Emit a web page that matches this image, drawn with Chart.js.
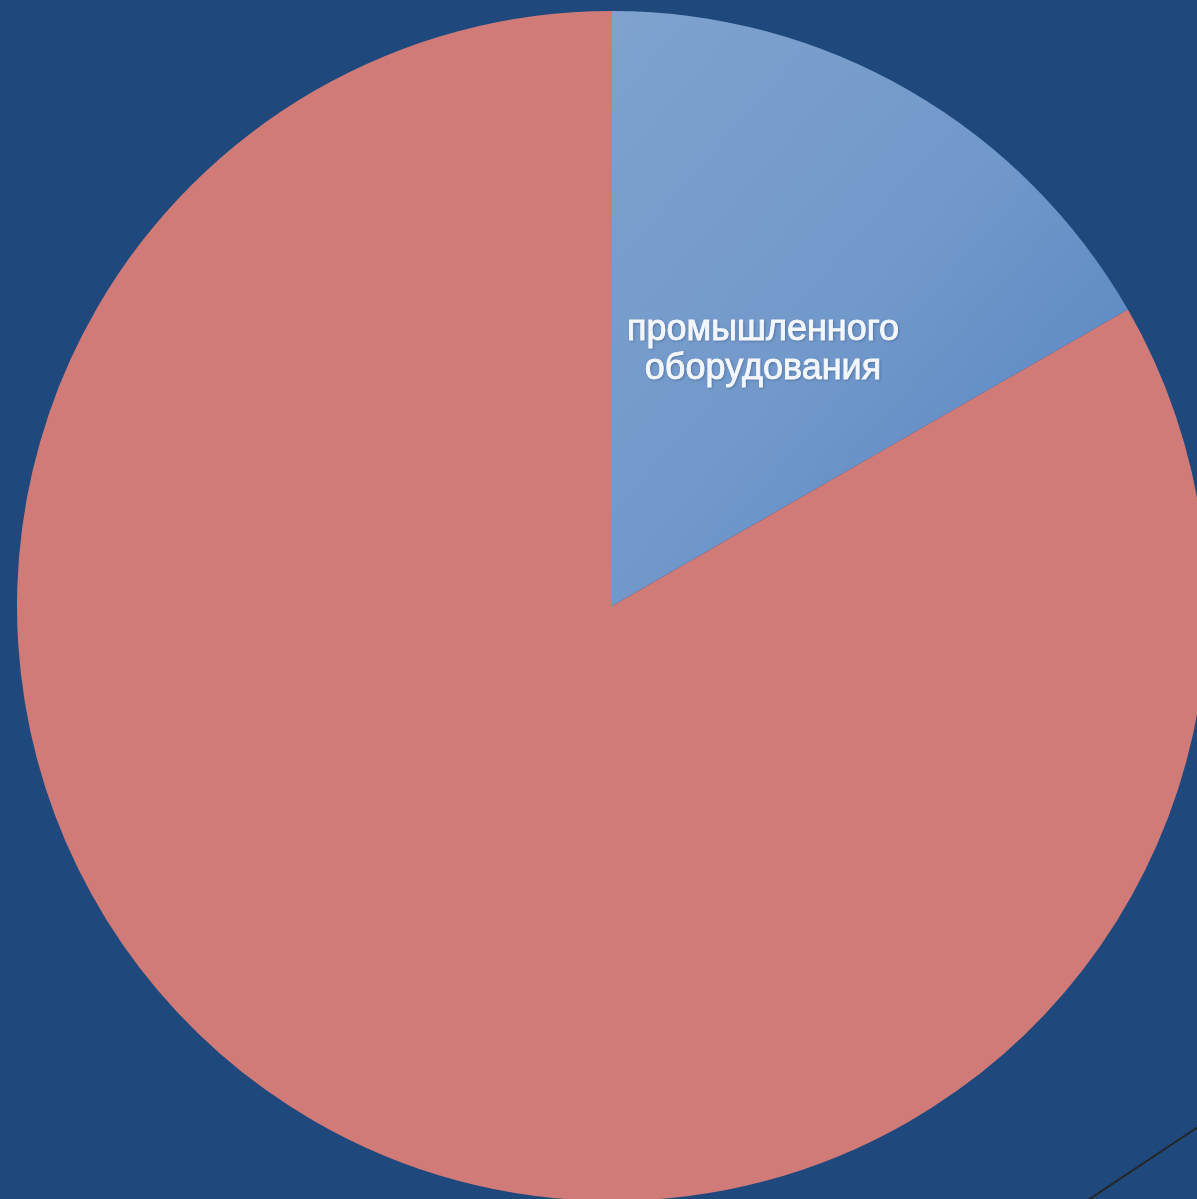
<!DOCTYPE html>
<html lang="ru">
<head>
<meta charset="utf-8">
<title>Pie</title>
<script src="https://cdn.jsdelivr.net/npm/chart.js@4/dist/chart.umd.min.js"></script>
<style>
  html, body { margin: 0; padding: 0; width: 1197px; height: 1199px; overflow: hidden; background: #1F497D; }
  #wrap { position: absolute; left: 17px; top: 11px; width: 1190px; height: 1190px; }
  #deco { position: absolute; left: 1088px; top: 1199px; width: 220px; height: 2px; background: #262626;
          transform-origin: 0 50%; transform: rotate(-33.6deg); }
</style>
</head>
<body>
<div id="wrap"><canvas id="pieChart"></canvas></div>
<div id="deco"></div>
<script>
const labels = [["промышленного", "оборудования"], ""];
const values = [16.7, 83.3];
const colors = ["#7A9FCD", "#D07B78"];

// blue slice has a soft gradient, darker toward its outer right side
function sliceFill(ctx) {
  const i = ctx.dataIndex;
  const chart = ctx.chart;
  if (i !== 0 || !chart.chartArea) return colors[i];
  const { left, top, right, bottom } = chart.chartArea;
  const cx = (left + right) / 2, cy = (top + bottom) / 2;
  const r = Math.min(right - left, bottom - top) / 2;
  const g = chart.ctx.createLinearGradient(cx, cy - r, cx + r * 0.85, cy - r * 0.25);
  g.addColorStop(0, "#7FA2CE");
  g.addColorStop(0.55, "#7299CB");
  g.addColorStop(1, "#5A88C3");
  return g;
}

const sliceLabels = {
  id: "sliceLabels",
  afterDatasetsDraw(chart) {
    const ctx = chart.ctx;
    const meta = chart.getDatasetMeta(0);
    meta.data.forEach((arc, i) => {
      const lines = labels[i];
      if (!lines || !lines.length) return;
      const p = arc.getCenterPoint();
      const lh = 39;
      ctx.save();
      ctx.font = "36px Arial, 'Liberation Sans', sans-serif";
      ctx.fillStyle = "#F3F7FC";
      ctx.strokeStyle = "#F3F7FC";
      ctx.lineWidth = 0.9;
      ctx.textAlign = "center";
      ctx.textBaseline = "middle";
      ctx.translate(p.x + 2, p.y);
      lines.forEach((t, k) => {
        const y = (k - (lines.length - 1) / 2) * lh + 1;
        ctx.shadowColor = "rgba(25,45,85,0.45)";
        ctx.shadowBlur = 3;
        ctx.shadowOffsetX = 1;
        ctx.shadowOffsetY = 1;
        ctx.fillText(t, 0, y);
        ctx.shadowColor = "transparent";
        ctx.strokeText(t, 0, y);
      });
      ctx.restore();
    });
  }
};

new Chart(document.getElementById("pieChart"), {
  type: "pie",
  data: {
    labels: labels.map(l => Array.isArray(l) ? l.join(" ") : l),
    datasets: [{
      data: values,
      backgroundColor: sliceFill,
      borderWidth: 0
    }]
  },
  options: {
    responsive: true,
    maintainAspectRatio: false,
    animation: false,
    layout: { padding: 0 },
    plugins: { legend: { display: false }, tooltip: { enabled: false } }
  },
  plugins: [sliceLabels]
});
</script>
</body>
</html>
